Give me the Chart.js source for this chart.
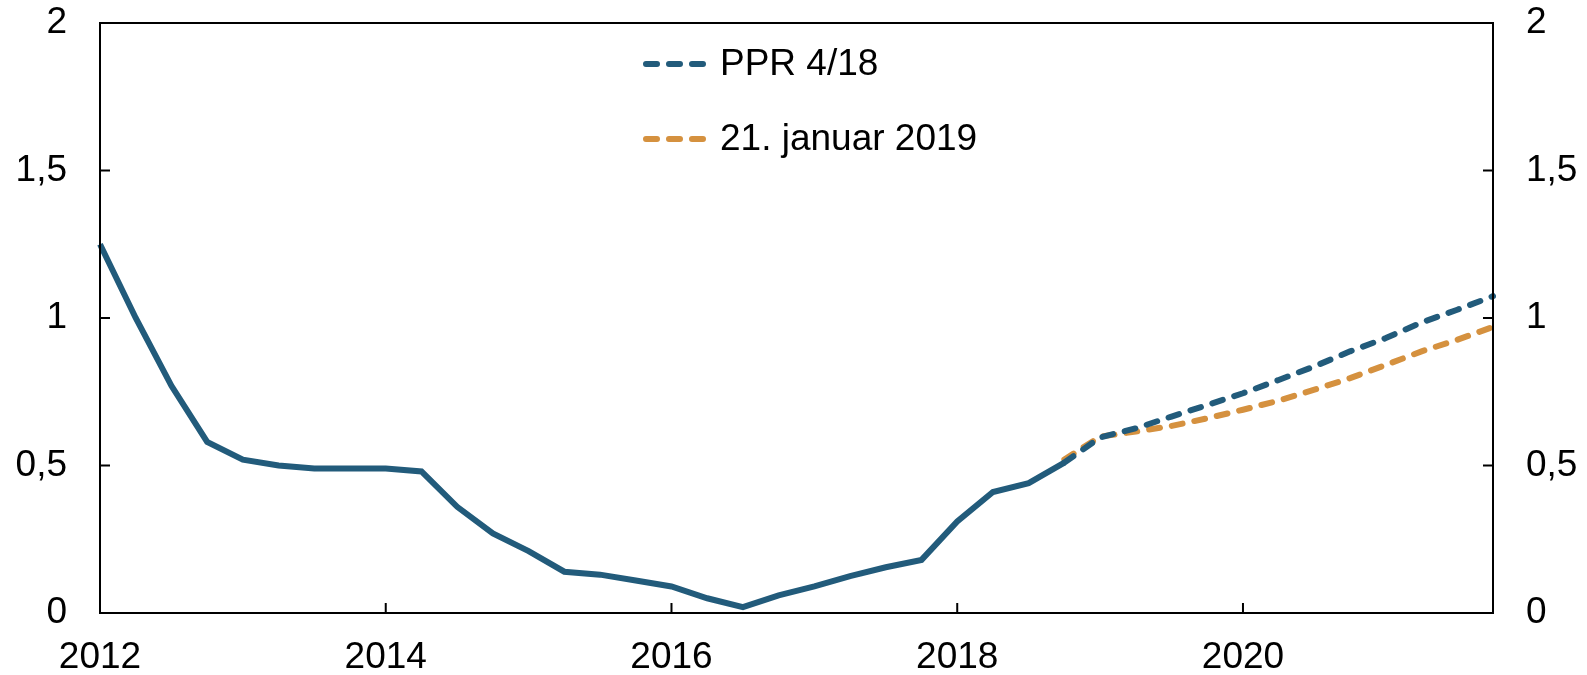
<!DOCTYPE html>
<html>
<head>
<meta charset="utf-8">
<script src="https://cdn.jsdelivr.net/npm/chart.js@4/dist/chart.umd.min.js"></script>
<style>
    html, body { margin: 0; padding: 0; background: #fff; }
    #wrap { width: 1587px; height: 675px; }
</style>
</head>
<body>
<div id="wrap"><canvas id="chart"></canvas></div>
<script>
const quarters = [
    '2012K1', '2012K2', '2012K3', '2012K4', '2013K1', '2013K2', '2013K3', '2013K4',
    '2014K1', '2014K2', '2014K3', '2014K4', '2015K1', '2015K2', '2015K3', '2015K4',
    '2016K1', '2016K2', '2016K3', '2016K4', '2017K1', '2017K2', '2017K3', '2017K4',
    '2018K1', '2018K2', '2018K3', '2018K4', '2019K1', '2019K2', '2019K3', '2019K4',
    '2020K1', '2020K2', '2020K3', '2020K4', '2021K1', '2021K2', '2021K3', '2021K4'
];

// historikk
const actual = [
    1.25, 1.00, 0.77, 0.58, 0.52, 0.50, 0.49, 0.49,
    0.49, 0.48, 0.36, 0.27, 0.21, 0.14, 0.13, 0.11,
    0.09, 0.05, 0.02, 0.06, 0.09, 0.125, 0.155, 0.18,
    0.31, 0.41, 0.44, 0.51,
    null, null, null, null, null, null, null, null, null, null, null, null
];

const ppr418 = [
    null, null, null, null, null, null, null, null,
    null, null, null, null, null, null, null, null,
    null, null, null, null, null, null, null, null,
    null, null, null, 0.51,
    0.595, 0.626, 0.666, 0.705, 0.745, 0.79, 0.836, 0.887, 0.932, 0.985, 1.028, 1.074
];

const jan2019 = [
    null, null, null, null, null, null, null, null,
    null, null, null, null, null, null, null, null,
    null, null, null, null, null, null, null, null,
    null, null, null, 0.52,
    0.598, 0.615, 0.634, 0.66, 0.689, 0.72, 0.757, 0.796, 0.841, 0.887, 0.926, 0.97
];

const yTicks = [0, 0.5, 1, 1.5, 2];

const BLUE = '#225b7b';
const ORANGE = '#d5913f';
const FONT = "'Liberation Sans', Arial, sans-serif";

function fmt(v) {
    return String(v).replace('.', ',');
}

// ramme, innovervendte tick-streker og legende
const framePlugin = {
    id: 'frame',
    afterDraw(chart) {
        const ctx = chart.ctx;
        const a = chart.chartArea;
        const x = chart.scales.x;
        const y = chart.scales.y;
        ctx.save();
        ctx.strokeStyle = '#000';
        ctx.lineWidth = 2;
        ctx.strokeRect(a.left, a.top, a.right - a.left, a.bottom - a.top);

        ctx.beginPath();
        quarters.forEach((q, i) => {
            if (i > 0 && i % 8 === 0) {
                const px = x.getPixelForValue(i);
                ctx.moveTo(px, a.bottom);
                ctx.lineTo(px, a.bottom - 10);
            }
        });
        yTicks.forEach(v => {
            if (v > 0 && v < 2) {
                const py = y.getPixelForValue(v);
                ctx.moveTo(a.left, py);
                ctx.lineTo(a.left + 10, py);
                ctx.moveTo(a.right, py);
                ctx.lineTo(a.right - 10, py);
            }
        });
        ctx.stroke();

        // legende
        const items = [chart.data.datasets[1], chart.data.datasets[2]];
        items.forEach((ds, k) => {
            const ly = 64 + k * 75;
            ctx.strokeStyle = ds.borderColor;
            ctx.lineWidth = 6;
            ctx.lineCap = 'round';
            ctx.setLineDash([11, 12]);
            ctx.beginPath();
            ctx.moveTo(646, ly);
            ctx.lineTo(704, ly);
            ctx.stroke();
            ctx.setLineDash([]);
            ctx.fillStyle = '#000';
            ctx.font = '37px ' + FONT;
            ctx.textBaseline = 'middle';
            ctx.textAlign = 'left';
            ctx.fillText(ds.label, 720, ly + 1);
        });
        ctx.restore();
    }
};

const tickFont = { family: FONT, size: 37 };

new Chart(document.getElementById('chart'), {
    type: 'line',
    data: {
        labels: quarters,
        datasets: [
            {
                label: 'Faktisk',
                data: actual,
                borderColor: BLUE,
                borderWidth: 6,
                pointRadius: 0,
                tension: 0,
                spanGaps: false
            },
            {
                label: 'PPR 4/18',
                data: ppr418,
                borderColor: BLUE,
                borderWidth: 6,
                borderDash: [11, 12],
                borderCapStyle: 'round',
                pointRadius: 0,
                tension: 0
            },
            {
                label: '21. januar 2019',
                data: jan2019,
                borderColor: ORANGE,
                borderWidth: 6,
                borderDash: [11, 12],
                borderCapStyle: 'round',
                pointRadius: 0,
                tension: 0
            }
        ]
    },
    options: {
        responsive: true,
        maintainAspectRatio: false,
        animation: false,
        layout: { padding: { top: 23, right: 0, left: 0, bottom: 0 } },
        plugins: {
            legend: { display: false },
            tooltip: { enabled: false }
        },
        scales: {
            x: {
                type: 'category',
                offset: false,
                grid: { display: false },
                border: { display: false },
                afterFit(scale) {
                    scale.height = 62;
                    scale.paddingLeft = 0;
                    scale.paddingRight = 0;
                },
                ticks: {
                    autoSkip: false,
                    maxRotation: 0,
                    padding: 15,
                    color: '#000',
                    font: tickFont,
                    callback: (val, i) => (i % 8 === 0 ? quarters[i].slice(0, 4) : '')
                }
            },
            y: {
                position: 'left',
                min: 0,
                max: 2,
                grid: { display: false },
                border: { display: false },
                afterFit(scale) {
                    scale.width = 100;
                    scale.paddingTop = 0;
                    scale.paddingBottom = 0;
                },
                afterBuildTicks(scale) { scale.ticks = yTicks.map(v => ({ value: v })); },
                ticks: {
                    padding: 25,
                    color: '#000',
                    font: tickFont,
                    callback: v => fmt(v)
                }
            },
            y2: {
                position: 'right',
                min: 0,
                max: 2,
                grid: { display: false },
                border: { display: false },
                afterFit(scale) {
                    scale.width = 94;
                    scale.paddingTop = 0;
                    scale.paddingBottom = 0;
                },
                afterBuildTicks(scale) { scale.ticks = yTicks.map(v => ({ value: v })); },
                ticks: {
                    padding: 25,
                    color: '#000',
                    font: tickFont,
                    callback: v => fmt(v)
                }
            }
        }
    },
    plugins: [framePlugin]
});
</script>
</body>
</html>
